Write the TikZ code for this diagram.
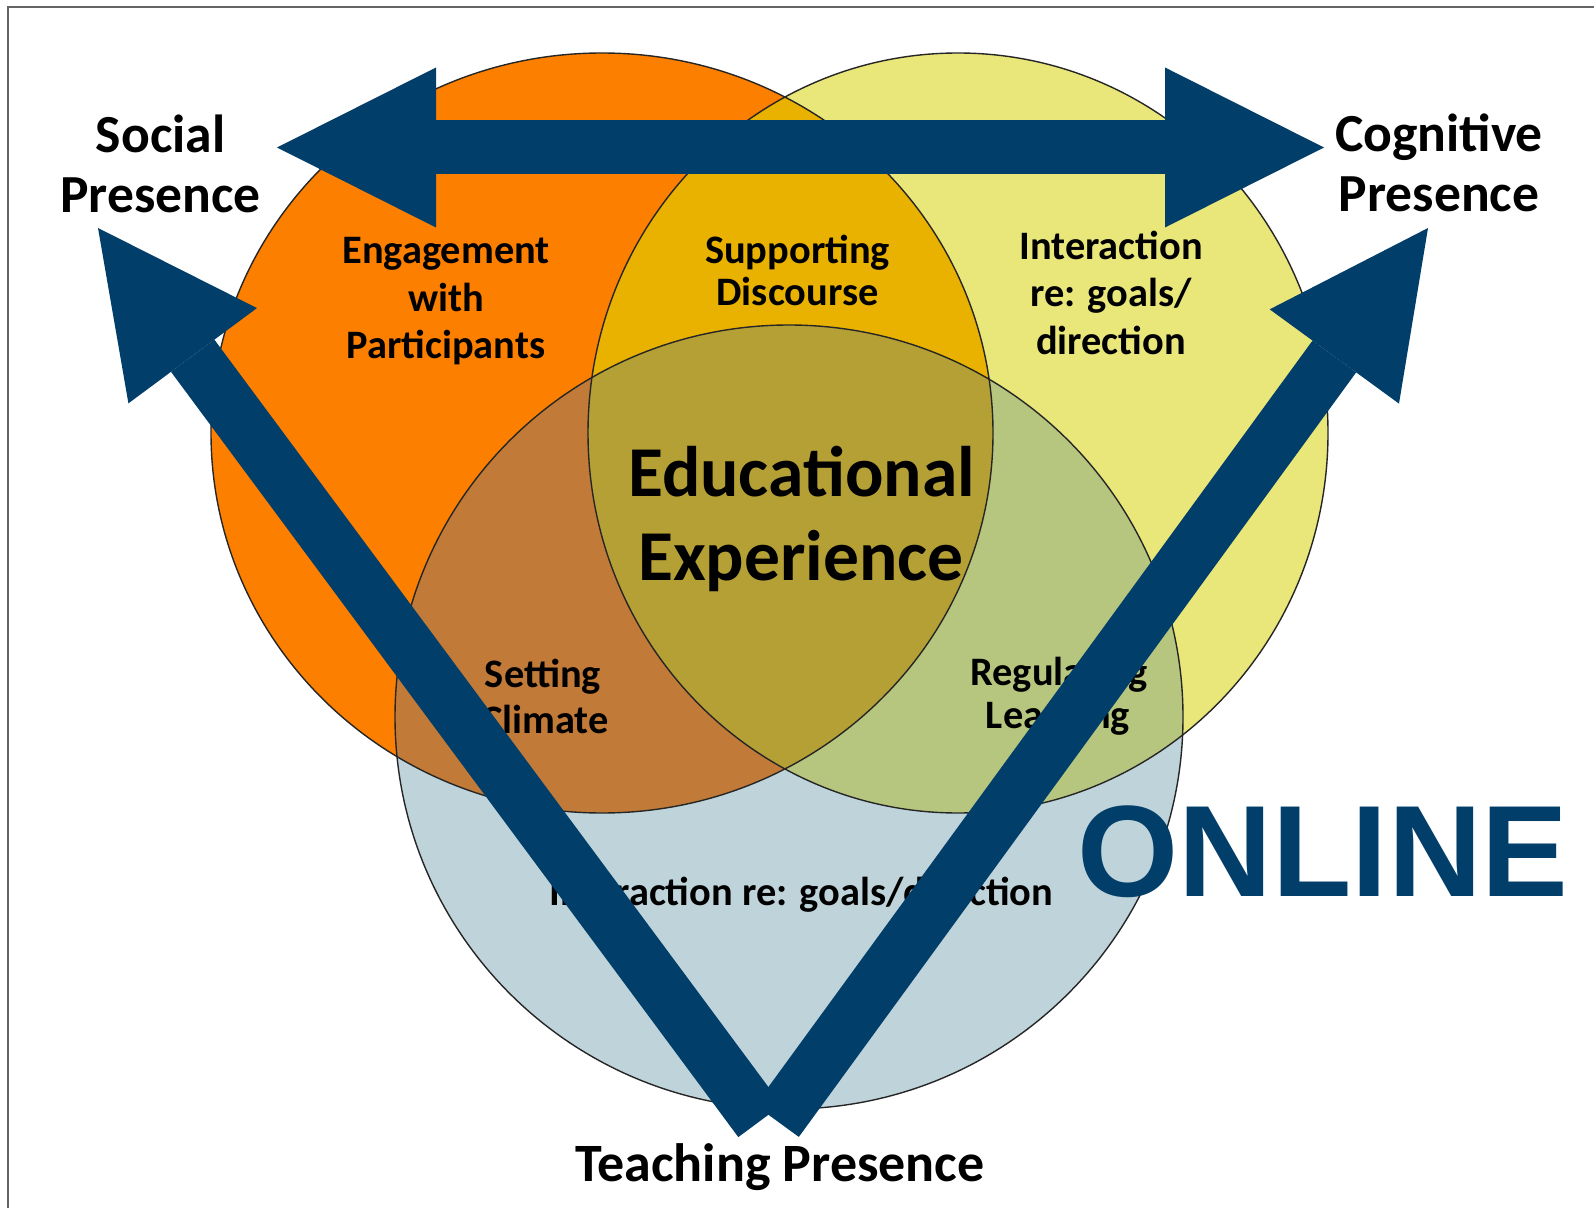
\documentclass[tikz,border=0pt]{standalone}
\usepackage{fontspec}
\setmainfont{Carlito}
\newfontfamily\headfont{Liberation Sans}
\usetikzlibrary{arrows.meta}

\definecolor{navy}{RGB}{2,62,106}
\definecolor{cOrange}{RGB}{253,127,0}
\definecolor{cYellow}{RGB}{233,230,122}
\definecolor{cBlue}{RGB}{191,212,218}
\definecolor{cOY}{RGB}{233,178,0}
\definecolor{cOB}{RGB}{193,122,55}
\definecolor{cYB}{RGB}{182,198,127}
\definecolor{cAll}{RGB}{181,160,54}
\definecolor{frameGray}{RGB}{100,100,100}

\begin{document}
\begin{tikzpicture}[x=0.5pt,y=-0.5pt,
  ring/.style={draw=black!85, line width=0.7pt},
  lbl/.style={anchor=base, inner sep=0pt, text=black,
    font=\bfseries\fontsize{20.2pt}{24pt}\selectfont},
  presence/.style={anchor=base, inner sep=0pt, text=black,
    font=\bfseries\fontsize{26.8pt}{30pt}\selectfont},
  centre/.style={anchor=base, inner sep=0pt, text=black,
    font=\bfseries\fontsize{35.8pt}{42pt}\selectfont},
  bigarrow/.style={draw=navy, fill=navy, line width=27pt, -{Triangle[length=79.5pt,width=80pt,line width=0pt]}},
  bothways/.style={draw=navy, fill=navy, line width=27pt,
    {Triangle[length=79.5pt,width=80pt,line width=0pt]}-{Triangle[length=79.5pt,width=80pt,line width=0pt]}}
]
\useasboundingbox (0,0) rectangle (1594,1208);
\fill[white] (0,0) rectangle (1594,1208);

% frame
\draw[frameGray, line width=1pt] (8,1208) -- (8,7) -- (1594,7);

% centres of the three presences
\coordinate (cSoc) at (602,433);
\coordinate (cCog) at (958,433);
\coordinate (cTea) at (789,717);

% single areas
\fill[cOrange] (cSoc) ellipse [x radius=195.5pt, y radius=190pt];
\fill[cYellow] (cCog) ellipse [x radius=185pt, y radius=190pt];
\fill[cBlue]   (cTea) ellipse [x radius=197pt, y radius=196pt];

% pairwise overlaps
\begin{scope}
  \clip (cSoc) ellipse [x radius=195.5pt, y radius=190pt];
  \fill[cOY] (cCog) ellipse [x radius=185pt, y radius=190pt];
  \fill[cOB] (cTea) ellipse [x radius=197pt, y radius=196pt];
\end{scope}
\begin{scope}
  \clip (cCog) ellipse [x radius=185pt, y radius=190pt];
  \fill[cYB] (cTea) ellipse [x radius=197pt, y radius=196pt];
\end{scope}
% triple overlap
\begin{scope}
  \clip (cSoc) ellipse [x radius=195.5pt, y radius=190pt];
  \clip (cCog) ellipse [x radius=185pt, y radius=190pt];
  \fill[cAll] (cTea) ellipse [x radius=197pt, y radius=196pt];
\end{scope}

% outlines
\draw[ring] (cSoc) ellipse [x radius=195.5pt, y radius=190pt];
\draw[ring] (cCog) ellipse [x radius=185pt, y radius=190pt];
\draw[ring] (cTea) ellipse [x radius=197pt, y radius=196pt];

% region labels
\node[lbl] (eng1) at (446,263.3) {Engagement};
\node[lbl] (eng2) at (446,311.7) {with};
\node[lbl] (eng3) at (446,358.3) {Participants};

\node[lbl] (sup1) at (797.5,263.3) {Supporting};
\node[lbl] (sup2) at (797.5,306) {Discourse};

\node[lbl] (int1) at (1111,260) {Interaction};
\node[lbl] (int2) at (1111,306.7) {re: goals/};
\node[lbl] (int3) at (1111,355) {direction};

\node[lbl] (set1) at (543,687.3) {Setting};
\node[lbl] (set2) at (545,733.3) {Climate};

\node[lbl] (reg1) at (1059,685) {Regulating};
\node[lbl] (reg2) at (1058,728.3) {Learning};

\node[lbl] (goals) at (801.5,905) {Interaction re: goals/direction};

\node[centre] (edu1) at (801.5,496.7) {Educational};
\node[centre] (edu2) at (801,580) {Experience};

% presence labels
\node[presence] (soc1) at (160.5,153) {Social};
\node[presence] (soc2) at (160.5,213) {Presence};
\node[presence] (cog1) at (1439,151.7) {Cognitive};
\node[presence] (cog2) at (1439,211.7) {Presence};
\node[anchor=base, inner sep=0pt, text=black,
  font=\bfseries\fontsize{27pt}{30pt}\selectfont] (tea) at (780,1181.7) {Teaching Presence};

% arrows
\coordinate (tipSoc) at (98,228);
\coordinate (tipCog) at (1428,228);
\coordinate (footL) at (760,1121);
\coordinate (footR) at (777,1121);
\coordinate (endS) at (277,147.5);
\coordinate (endC) at (1324,147.5);

\draw[bigarrow] (footL) -- (tipSoc);
\draw[bigarrow] (footR) -- (tipCog);
\draw[bothways] (endS) -- (endC);

% mode
\node[anchor=base, inner sep=0pt, text=navy,
  font=\headfont\bfseries\fontsize{65pt}{70pt}\selectfont] (online) at (1323,896) {ONLINE};
\end{tikzpicture}
\end{document}
